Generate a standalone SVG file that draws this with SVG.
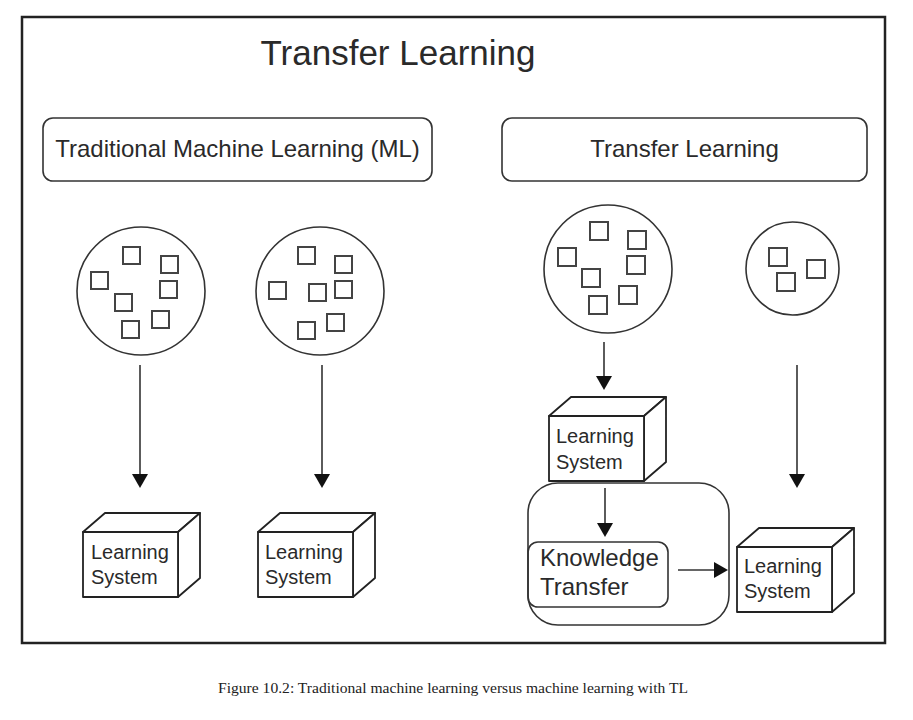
<svg xmlns="http://www.w3.org/2000/svg" width="913" height="720" viewBox="0 0 913 720">
<style>
.ln{fill:none;stroke:#333;stroke-width:1.6}
.sq{fill:none;stroke:#444;stroke-width:2}
.cube{fill:#fff;stroke:#222;stroke-width:1.8;stroke-linejoin:round}
.t{font-family:"Liberation Sans",Arial,sans-serif;fill:#2a2a2a}
.ah{fill:#111}
</style>
<defs>
<g id="ls">
<path class="cube" d="M0,0 L22,-19 L117,-19 L95,0 Z"/>
<path class="cube" d="M95,0 L117,-19 L117,46 L95,65 Z"/>
<rect class="cube" x="0" y="0" width="95" height="65"/>
</g>
<path id="ahd" d="M-8,-14 L8,-14 L0,0 Z"/>
<path id="ahr" d="M-14,-8 L-14,8 L0,0 Z"/>
</defs>
<rect width="913" height="720" fill="#fff"/>
<rect x="22" y="17" width="863" height="626" fill="none" stroke="#222" stroke-width="2.5"/>
<text class="t" x="398" y="65" font-size="35" text-anchor="middle" fill="#1a1a1a">Transfer Learning</text>

<g id="header-ml">
<rect x="43" y="118" width="389" height="63" rx="10" class="ln"/>
<text class="t" x="237.5" y="157" font-size="24" text-anchor="middle">Traditional Machine Learning (ML)</text>
</g>
<g id="header-tl">
<rect x="502" y="118" width="365" height="63" rx="10" class="ln"/>
<text class="t" x="684.5" y="157" font-size="24" text-anchor="middle">Transfer Learning</text>
</g>

<g id="data1">
<circle cx="141" cy="291" r="64" class="ln"/>
<rect class="sq" x="123" y="247" width="17" height="17"/>
<rect class="sq" x="161" y="256" width="17" height="17"/>
<rect class="sq" x="91" y="272" width="17" height="17"/>
<rect class="sq" x="160" y="281" width="17" height="17"/>
<rect class="sq" x="115" y="294" width="17" height="17"/>
<rect class="sq" x="152" y="311" width="17" height="17"/>
<rect class="sq" x="122" y="321" width="17" height="17"/>
</g>
<g id="data2">
<circle cx="320" cy="291" r="64" class="ln"/>
<rect class="sq" x="298" y="247" width="17" height="17"/>
<rect class="sq" x="335" y="256" width="17" height="17"/>
<rect class="sq" x="269" y="282" width="17" height="17"/>
<rect class="sq" x="309" y="284" width="17" height="17"/>
<rect class="sq" x="335" y="281" width="17" height="17"/>
<rect class="sq" x="298" y="322" width="17" height="17"/>
<rect class="sq" x="327" y="314" width="17" height="17"/>
</g>
<g id="data3">
<circle cx="608" cy="269" r="64" class="ln"/>
<rect class="sq" x="590" y="222" width="18" height="18"/>
<rect class="sq" x="628" y="231" width="18" height="18"/>
<rect class="sq" x="558" y="248" width="18" height="18"/>
<rect class="sq" x="627" y="256" width="18" height="18"/>
<rect class="sq" x="582" y="269" width="18" height="18"/>
<rect class="sq" x="619" y="286" width="18" height="18"/>
<rect class="sq" x="589" y="296" width="18" height="18"/>
</g>
<g id="data4">
<circle cx="792.5" cy="268.5" r="46.5" class="ln"/>
<rect class="sq" x="769" y="248" width="18" height="18"/>
<rect class="sq" x="807" y="260" width="18" height="18"/>
<rect class="sq" x="777" y="273" width="18" height="18"/>
</g>

<g id="container">
<rect x="528" y="483" width="201" height="142" rx="30" class="ln"/>
</g>

<g id="ls1">
<use href="#ls" x="83" y="532"/>
<text class="t" font-size="20" x="91" y="559">Learning</text>
<text class="t" font-size="20" x="91" y="584">System</text>
</g>
<g id="ls2">
<use href="#ls" x="258" y="532"/>
<text class="t" font-size="20" x="265" y="559">Learning</text>
<text class="t" font-size="20" x="265" y="584">System</text>
</g>
<g id="ls3">
<use href="#ls" x="549" y="416"/>
<text class="t" font-size="20" x="556" y="443">Learning</text>
<text class="t" font-size="20" x="556" y="469">System</text>
</g>
<g id="ls4">
<use href="#ls" x="737" y="547"/>
<text class="t" font-size="20" x="744" y="573">Learning</text>
<text class="t" font-size="20" x="744" y="598">System</text>
</g>

<g id="knowledge-transfer">
<rect x="528" y="542" width="140" height="65" rx="10" class="ln" fill="#fff"/>
<text class="t" font-size="24" x="540" y="566">Knowledge</text>
<text class="t" font-size="24" x="540" y="595">Transfer</text>
</g>

<g id="connectors">
<line class="ln" x1="140" y1="365" x2="140" y2="476"/>
<use href="#ahd" class="ah" x="140" y="488"/>
<line class="ln" x1="322" y1="365" x2="322" y2="476"/>
<use href="#ahd" class="ah" x="322" y="488"/>
<line class="ln" x1="604" y1="342" x2="604" y2="378"/>
<use href="#ahd" class="ah" x="604" y="390"/>
<line class="ln" x1="797" y1="365" x2="797" y2="476"/>
<use href="#ahd" class="ah" x="797" y="488"/>
<line class="ln" x1="605" y1="488" x2="605" y2="525"/>
<use href="#ahd" class="ah" x="605" y="537"/>
<line class="ln" x1="678" y1="570" x2="715" y2="570"/>
<use href="#ahr" class="ah" x="728" y="570"/>
</g>

<text x="218" y="693" font-family="'Liberation Serif','Times New Roman',serif" font-size="15" fill="#222" textLength="470" lengthAdjust="spacingAndGlyphs">Figure 10.2: Traditional machine learning versus machine learning with TL</text>
</svg>
